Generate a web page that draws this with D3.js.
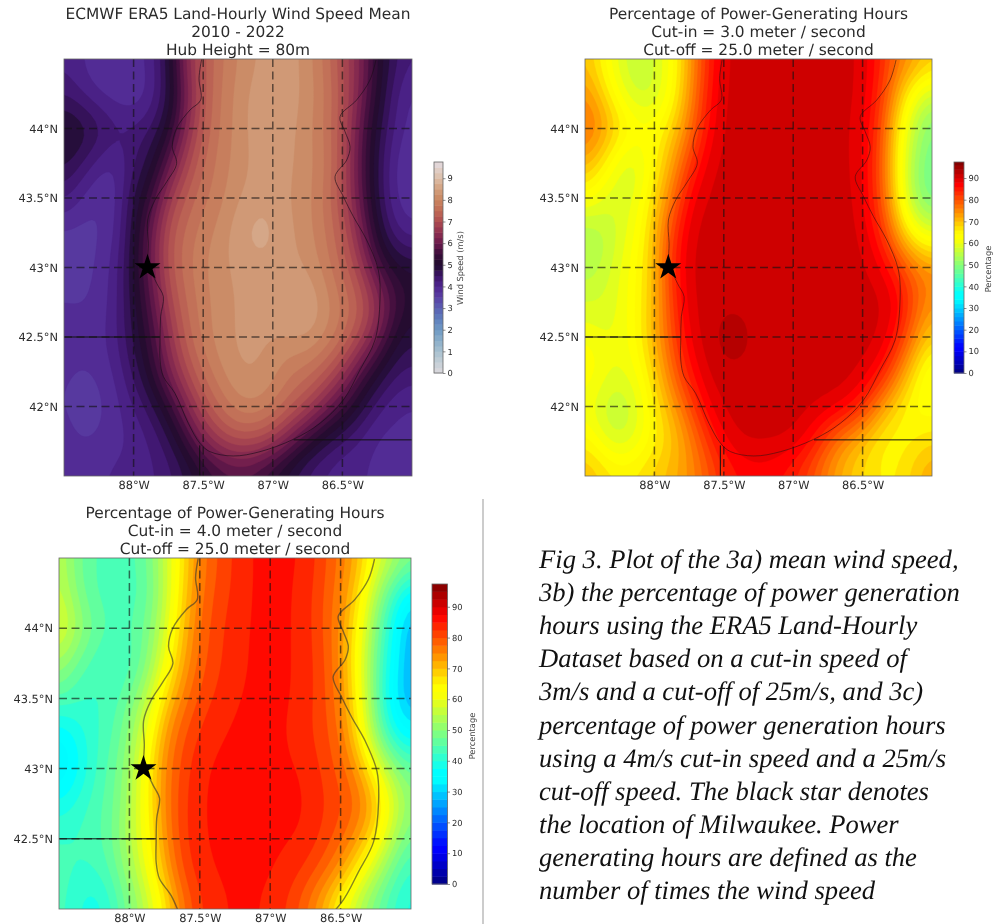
<!DOCTYPE html>
<html><head><meta charset="utf-8">
<script src="https://cdn.jsdelivr.net/npm/d3@7"></script>
<style>
html,body{margin:0;padding:0;background:#fff;overflow:hidden}
svg{display:block;filter:blur(0.55px);text-rendering:geometricPrecision}
text{font-family:"DejaVu Sans",sans-serif;fill:#2b2b2b}
</style></head><body>
<svg id="c" width="1006" height="924"></svg>
<script>
const lons=[-88.5,-88.375,-88.25,-88.125,-88,-87.875,-87.75,-87.625,-87.5,-87.375,-87.25,-87.125,-87,-86.875,-86.75,-86.625,-86.5,-86.375,-86.25,-86.125,-86];
const latsFull=[44.5,44.25,44,43.75,43.5,43.25,43,42.75,42.5,42.25,42,41.75,41.5];
const latsCut=[44.5,44.25,44,43.75,43.5,43.25,43,42.75,42.5,42.25,42];
const lonTicks=[-88,-87.5,-87,-86.5];
const lonLabels=["88°W","87.5°W","87°W","86.5°W"];
const latTicks=[44,43.5,43,42.5,42];
const latLabels=["44°N","43.5°N","43°N","42.5°N","42°N"];
const windSpeed=[
[4.2,4.0,3.8,3.8,3.9,4.1,4.8,6.5,7.2,7.7,8.0,8.2,8.4,8.4,8.1,7.7,7.0,6.3,5.2,4.6,4.3],
[4.4,4.1,3.8,3.7,3.6,3.9,4.6,6.0,7.2,7.8,8.1,8.4,8.5,8.4,8.2,7.8,7.2,6.2,5.2,4.2,3.8],
[5.3,5.2,4.9,4.5,4.4,4.5,5.0,6.3,7.3,7.8,8.1,8.4,8.5,8.3,8.1,7.7,7.1,5.9,4.8,4.2,3.9],
[4.9,4.5,4.0,3.8,4.4,4.8,5.8,6.9,7.5,7.9,8.1,8.3,8.5,8.3,8.1,7.9,7.1,5.8,4.7,3.9,3.6],
[4.4,3.9,3.7,3.8,4.9,5.3,6.8,7.3,7.7,7.9,8.2,8.4,8.4,8.2,8.1,7.7,7.0,5.9,4.7,3.9,3.8],
[3.6,3.6,3.7,3.9,4.9,6.0,7.2,7.6,7.9,8.1,8.5,8.7,8.6,8.3,8.1,7.8,7.3,6.3,5.0,4.2,3.9],
[3.5,3.6,3.8,4.1,5.0,6.0,7.2,7.7,8.0,8.2,8.3,8.4,8.4,8.3,8.2,7.9,7.4,6.8,5.6,5.1,5.1],
[3.8,3.7,3.8,4.1,4.9,5.7,6.9,7.5,7.9,8.1,8.3,8.3,8.3,8.6,8.6,8.2,7.8,7.4,6.7,5.7,5.1],
[3.9,3.9,3.9,4.2,4.8,5.4,6.5,7.4,7.9,8.2,8.3,8.3,8.3,8.3,8.4,8.1,7.7,7.1,6.2,5.1,4.8],
[3.8,3.7,3.8,4.0,4.6,5.2,6.3,7.0,7.6,8.0,8.3,8.3,8.1,7.7,7.6,7.3,6.7,5.7,5.0,4.5,4.4],
[3.8,3.5,3.6,3.9,4.2,4.6,5.2,6.3,7.1,7.6,8.0,8.1,7.9,7.5,7.1,6.3,5.6,4.9,4.3,4.0,3.9],
[3.9,3.7,3.8,3.9,4.0,4.2,4.6,5.3,6.3,6.9,7.2,7.1,6.8,6.0,5.2,4.6,4.3,4.1,3.8,3.9,3.9],
[4.0,4.0,4.0,4.1,4.1,4.2,4.3,4.6,4.9,5.2,5.3,5.2,4.8,4.5,4.2,4.1,4.0,4.0,4.0,4.0,3.9]];
const pctCut3=[
[70,64,58,56,58,62,72,83,90,91,91,91,91,91,91,90.5,90,85,78,76,72],
[75,68,60,55,56,62,73,85,90.5,91,91,91,91,91,91,90.5,90,84,72,60,55],
[80,76,70,66,64,68,76,86,90.5,91,91,91,91,91,91,90.5,89,82,66,54,48],
[72,66,58,56,64,72,82,89,91,91,91,91,91,91,91,90.5,89,81,65,52,47],
[64,60,58,60,68,76,88,90.5,91,91,91,91,91,91,91,91,89,81,66,50,46],
[52,54,58,62,70,82,90,91,91,91,91,91,91,91,91,91,90,85,72,62,58],
[54,56,60,64,70,84,90.5,91,91,91,91,91,91,91,91,91,90.5,89,84,78,76],
[58,58,60,64,70,82,90,91,91,91,91,91,91,91,91,91,91,91,89,80,74],
[62,60,60,64,72,80,89,91,94,94,91,91,91,91,91,91,91,90.5,86,76,68],
[66,62,60,62,68,78,86,90.5,91,91,91,91,91,91,91,91,90.5,88,78,66,58],
[60,56,54,58,66,72,80,88,91,91,91,91,91,91,91,90,85,74,66,62,62],
[66,60,56,60,64,68,74,82,88,91,91,91,90.5,87,79,72,68,64,64,66,68],
[72,70,68,68,70,72,74,78,83,85,86,85,83,79,74,70,68,66,66,70,74]];
const pctCut4=[
[56,48,45,44,44,47,56,66,76,80,83,85.5,85.5,85.5,85,81,77,72,62,56,52],
[57,48,44,43,43,45,54,68,77,81,83,85.5,85.5,85.5,84,80,76,68,53,42,32],
[62,55,48,45,45,48,57,70,78,82,84,85.5,85.5,85.5,84,80,75,64,49,36,24],
[53,46,43,41,42,48,60,72,79,82,84,85.5,85.5,85.5,84,81,75,62,47,35,26],
[46,43,42,43,48,55,68,76,81,83,85,85.5,85.5,85.5,84,81,76,64,47,31,25],
[33,38,42,44,50,60,74,80,83,85,85.5,85.5,85.5,85,83,81,78,66,49,37,33],
[30,35,42,46,52,64,76,81,85,85.5,85.5,85.5,85.5,85.5,85,82,79,74,62,52,47],
[38,41,44,46,53,64,76,82,85,85.5,85.5,85.5,85.5,85.5,85.5,83,81,79,72,60,50],
[43,43,44,47,55,62,75,82,85,85.5,85.5,85.5,85.5,85.5,85,82,79,74,66,54,46],
[44,42,42,45,52,60,72,81,84,85.5,85.5,85.5,85.5,84,82,79,74,64,54,45,40],
[44,40,36,41,48,54,64,76,82,84,85.5,85.5,84,82,77,70,60,52,46,41,38]];
const coastLon=[-87.511,-87.53,-87.518,-87.595,-87.691,-87.722,-87.691,-87.762,-87.846,-87.899,-87.894,-87.894,-87.834,-87.786,-87.806,-87.81,-87.81,-87.786,-87.703,-87.607,-87.523,-87.451,-87.284,-87.092,-86.852,-86.661,-86.493,-86.374,-86.266,-86.23,-86.242,-86.326,-86.421,-86.493,-86.553,-86.469,-86.445,-86.481,-86.517,-86.398,-86.302,-86.259];
const coastLat=[44.5,44.361,44.205,44.133,44.001,43.869,43.749,43.617,43.486,43.342,43.174,43.03,42.886,42.79,42.646,42.478,42.335,42.215,42.095,41.879,41.735,41.675,41.644,41.675,41.764,41.879,42.047,42.263,42.478,42.766,42.982,43.198,43.366,43.51,43.653,43.773,43.869,43.977,44.085,44.205,44.349,44.493];
const borderLon=[[-88.5,-87.81],[-87.525,-87.525],[-86.85,-86]];
const borderLat=[[42.5,42.5],[41.72,41.5],[41.76,41.76]];
const milwaukee=[-87.9,43];
const windTicks=[0,1,2,3,4,5,6,7,8,9];
const pctTicks=[0,10,20,30,40,50,60,70,80,90];
const twilightVals=[0,0.5,1,1.5,2,2.5,3,3.5,4,4.5,5,5.5,6,6.5,7,7.5,8,8.5,9,9.75];
const twilightCols=["#dcd8dc","#c4ced6","#a8c0cf","#8cafc9","#6f9ac4","#5f7fbd","#5a60b2","#5940a4","#4f2590","#3c1468","#1e0c2c","#3a0d3a","#6a1a4c","#8e2f50","#ad4b50","#bf6a55","#c98560","#d29f7d","#dcbea8","#e3dbe0"];
const jetVals=[0,11,12.2,34,36.5,62,64.5,87,97.4];
const jetCols=["#00007f","#0000ff","#0000ff","#00ffff","#00ffff","#ffff00","#ffff00","#ff0000","#7f0000"];
const titles=[
["ECMWF ERA5 Land-Hourly Wind Speed Mean","2010 - 2022","Hub Height = 80m"],
["Percentage of Power-Generating Hours","Cut-in = 3.0 meter / second","Cut-off = 25.0 meter / second"],
["Percentage of Power-Generating Hours","Cut-in = 4.0 meter / second","Cut-off = 25.0 meter / second"]];
const caption=["Fig 3. Plot of the 3a) mean wind speed,","3b) the percentage of power generation","hours using the ERA5 Land-Hourly","Dataset based on a cut-in speed of","3m/s and a cut-off of 25m/s, and 3c)","percentage of power generation hours","using a 4m/s cut-in speed and a 25m/s","cut-off speed. The black star denotes","the location of Milwaukee. Power","generating hours are defined as the","number of times the wind speed"];

const svg=d3.select("#c");
const defs=svg.append("defs");
const UP=5;
const lerp=(a,b,t)=>a+(b-a)*t;
function refine(grid){
  const r=grid.length,c=grid[0].length,w=(c-1)*UP+1,h=(r-1)*UP+1,out=new Float64Array(w*h);
  for(let j=0;j<h;j++){const fy=j/UP,j0=Math.min(Math.floor(fy),r-2),ty=fy-j0;
    for(let i=0;i<w;i++){const fx=i/UP,i0=Math.min(Math.floor(fx),c-2),tx=fx-i0;
      out[j*w+i]=lerp(lerp(grid[j0][i0],grid[j0][i0+1],tx),lerp(grid[j0+1][i0],grid[j0+1][i0+1],tx),ty);}}
  d3.blur2({data:out,width:w,height:h},2.2);
  return {w,h,out};
}
function panel(o,idx){
  const g=svg.append("g");
  const x=d3.scaleLinear().domain([lons[0],lons[lons.length-1]]).range([o.x0,o.x1]);
  const y=d3.scaleLinear().domain([o.lats[0],o.lats[o.lats.length-1]]).range([o.y0,o.y1]);
  const color=d3.scaleLinear().domain(o.cv).range(o.cc).interpolate(d3.interpolateRgb).clamp(true);
  const f=refine(o.grid);
  const levels=d3.range(0,o.max,o.step);
  const bandCol=t=>color(Math.min(t+o.step/2,o.max));
  const gx=d3.scaleLinear().domain([0.5,f.w-0.5]).range(x.domain());
  const gy=d3.scaleLinear().domain([0.5,f.h-0.5]).range(y.domain());
  const proj=d3.geoTransform({point(a,b){this.stream.point(x(gx(a)),y(gy(b)));}});
  const path=d3.geoPath(proj);
  const cid="clip"+idx;
  defs.append("clipPath").attr("id",cid).append("rect").attr("x",o.x0).attr("y",o.y0).attr("width",o.x1-o.x0).attr("height",o.y1-o.y0);
  const plot=g.append("g").attr("clip-path",`url(#${cid})`);
  plot.append("rect").attr("x",o.x0).attr("y",o.y0).attr("width",o.x1-o.x0).attr("height",o.y1-o.y0).attr("fill",bandCol(d3.min(f.out)));
  const cs=d3.contours().size([f.w,f.h]).smooth(true).thresholds(levels)(Array.from(f.out));
  plot.selectAll("path.b").data(cs.filter(d=>d.coordinates.length)).join("path").attr("class","b").attr("d",d=>path(d))
    .attr("fill",d=>bandCol(d.value)).attr("stroke",d=>bandCol(d.value)).attr("stroke-width",0.4);
  const line=d3.line().x(d=>x(d[0])).y(d=>y(d[1])).curve(d3.curveCatmullRom);
  const coast=coastLon.map((v,i)=>[v,coastLat[i]]);
  plot.append("path").attr("d",line(coast)).attr("fill","none").attr("stroke",o.coast).attr("stroke-opacity",o.coastA).attr("stroke-width",o.coastW);
  borderLon.forEach((b,i)=>plot.append("path").attr("d",d3.line().x(d=>x(d[0])).y(d=>y(d[1]))([[b[0],borderLat[i][0]],[b[1],borderLat[i][1]]])).attr("fill","none").attr("stroke","#111").attr("stroke-width",1));
  const grid=plot.append("g").attr("stroke","#111").attr("stroke-opacity",0.62).attr("stroke-width",1.5).attr("stroke-dasharray","8,4.5");
  lonTicks.forEach(v=>grid.append("line").attr("x1",x(v)).attr("x2",x(v)).attr("y1",o.y0).attr("y2",o.y1));
  latTicks.filter(v=>v>o.lats[o.lats.length-1]).forEach(v=>grid.append("line").attr("x1",o.x0).attr("x2",o.x1).attr("y1",y(v)).attr("y2",y(v)));
  g.append("rect").attr("x",o.x0).attr("y",o.y0).attr("width",o.x1-o.x0).attr("height",o.y1-o.y0).attr("fill","none").attr("stroke","#666").attr("stroke-width",0.8);
  g.append("path").attr("transform",`translate(${x(milwaukee[0])},${y(milwaukee[1])})`).attr("d",d3.symbol(d3.symbolStar,210)()).attr("fill","#000");
  const ax=g.append("g").attr("transform",`translate(0,${o.y1})`).call(d3.axisBottom(x).tickValues(lonTicks).tickSize(0).tickPadding(o.xPad).tickFormat((d,i)=>lonLabels[i]));
  const visLat=latTicks.filter(v=>v>o.lats[o.lats.length-1]);
  const ay=g.append("g").attr("transform",`translate(${o.x0},0)`).call(d3.axisLeft(y).tickValues(visLat).tickSize(0).tickPadding(6).tickFormat(d=>latLabels[latTicks.indexOf(d)]));
  [ax,ay].forEach(a=>{a.select(".domain").remove();a.selectAll("text").style("font-family","DejaVu Sans").style("font-size","11.4px").attr("fill","#333");});
  titles[idx].forEach((t,i)=>g.append("text").attr("x",(o.x0+o.x1)/2).attr("y",o.y0-40+i*18).attr("text-anchor","middle").style("font-size","15.4px").text(t));
  const cb=g.append("g");
  const cy=d3.scaleLinear().domain([0,o.max]).range([o.cb[3],o.cb[2]]);
  cb.selectAll("rect").data(levels).join("rect").attr("x",o.cb[0]).attr("width",o.cb[1]-o.cb[0])
    .attr("y",d=>cy(Math.min(d+o.step,o.max))).attr("height",d=>cy(d)-cy(Math.min(d+o.step,o.max))+0.5).attr("fill",bandCol);
  cb.append("rect").attr("x",o.cb[0]).attr("y",o.cb[2]).attr("width",o.cb[1]-o.cb[0]).attr("height",o.cb[3]-o.cb[2]).attr("fill","none").attr("stroke","#666").attr("stroke-width",0.8);
  const ca=cb.append("g").attr("transform",`translate(${o.cb[1]},0)`).call(d3.axisRight(cy).tickValues(o.ticks).tickSize(2.5).tickPadding(2));
  ca.select(".domain").remove();
  ca.selectAll("text").style("font-family","DejaVu Sans").style("font-size",o.cbFont).attr("fill","#444");
  ca.selectAll("line").attr("stroke","#444").attr("stroke-width",0.6);
  cb.append("text").attr("transform",`translate(${o.cbLabel[0]},${o.cbLabel[1]}) rotate(-90)`).attr("text-anchor","middle").style("font-size",o.cbFont).style("fill","#444").text(o.label);
}
panel({grid:windSpeed,lats:latsFull,x0:64,x1:412,y0:59,y1:476,xPad:5,coast:"#1a0d1a",coastA:0.8,coastW:0.8,max:9.75,step:0.25,cv:twilightVals,cc:twilightCols,cb:[434,443,162,373],ticks:windTicks,cbFont:"8.3px",cbLabel:[463,268],label:"Wind Speed (m/s)"},0);
panel({grid:pctCut3,lats:latsFull,x0:585,x1:932,y0:59,y1:476,xPad:5,coast:"#3a1010",coastA:0.75,coastW:0.8,max:97.4,step:2,cv:jetVals,cc:jetCols,cb:[954,964,162,373],ticks:pctTicks,cbFont:"8.3px",cbLabel:[991,269],label:"Percentage"},1);
panel({grid:pctCut4,lats:latsCut,x0:59,x1:411,y0:558,y1:909,xPad:5,coast:"#333",coastA:0.6,coastW:1.4,max:97.4,step:2.5,cv:jetVals,cc:jetCols,cb:[432,447.5,584,884],ticks:pctTicks,cbFont:"8.3px",cbLabel:[475,736],label:"Percentage"},2);
svg.append("line").attr("x1",483).attr("x2",483).attr("y1",499).attr("y2",924).attr("stroke","#999").attr("stroke-width",1);
svg.append("g").selectAll("text").data(caption).join("text").attr("x",539).attr("y",(d,i)=>568+i*33.1)
  .style("font-family","Liberation Serif").style("font-style","italic").style("font-size","26.6px").style("fill","#111").text(d=>d);
</script></body></html>
